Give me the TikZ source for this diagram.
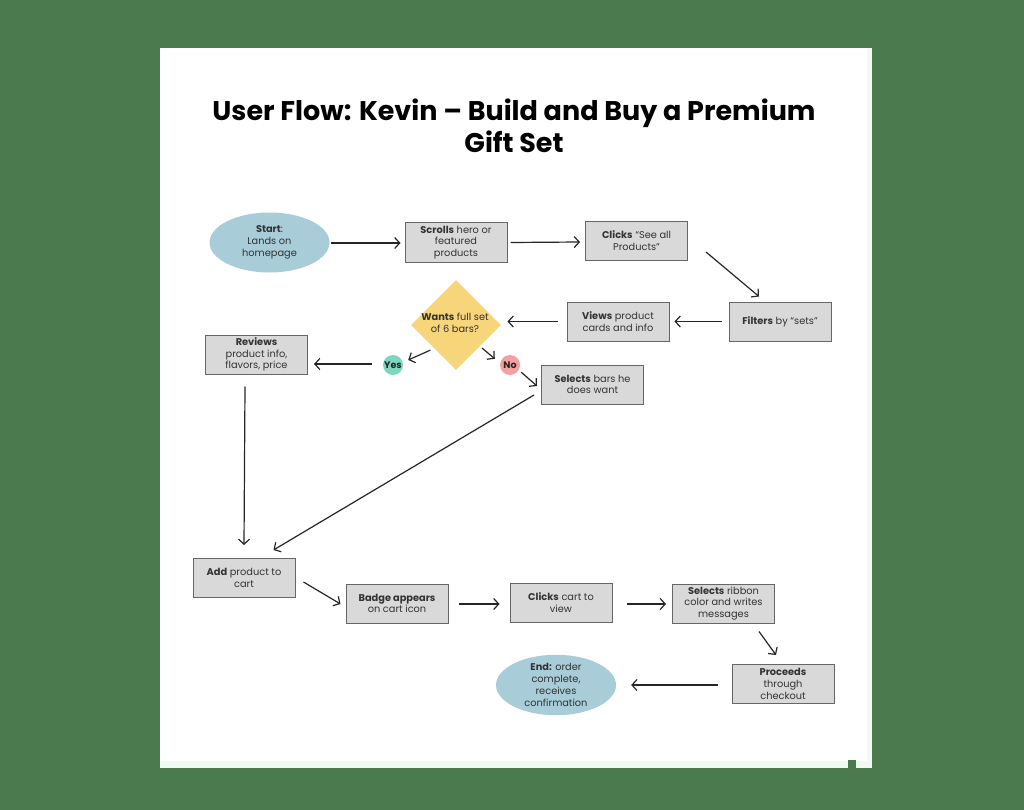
\documentclass[tikz,border=0pt]{standalone}
\usepackage{fontspec}
\setmainfont{Poppins}
\usetikzlibrary{arrows.meta,shapes.geometric,calc}
\definecolor{bggreen}{HTML}{4A7A4D}
\definecolor{edgegreen}{HTML}{F1FAF1}
\definecolor{boxfill}{HTML}{D9D9D9}
\definecolor{boxdraw}{HTML}{666666}
\definecolor{txt}{HTML}{333333}
\definecolor{ellblue}{HTML}{A8CCD8}
\definecolor{decyellow}{HTML}{F7D57A}
\definecolor{yesgreen}{HTML}{7ED6BF}
\definecolor{nored}{HTML}{F2A0A0}
\begin{document}
\begin{tikzpicture}[x=1pt,y=-1pt,
  stepbox/.style={draw=boxdraw, line width=1pt, fill=boxfill, minimum width=102pt, minimum height=39pt, inner sep=0pt, align=center, font=\fontsize{9.8}{11.8}\selectfont, text=txt},
  term/.style={ellipse, fill=ellblue, minimum width=120pt, minimum height=60pt, inner sep=0pt, align=center, font=\fontsize{9.8}{11.8}\selectfont, text=txt},
  dot/.style={circle, minimum size=20pt, inner sep=0pt, font=\bfseries\fontsize{9.5}{11}\selectfont, text=black!85},
  arr/.style={draw=black!85, line width=1.2pt, -{Straight Barb[length=5pt,width=11pt,line width=1.2pt]}}
]
\useasboundingbox (0,0) rectangle (1024,810);
\fill[bggreen] (0,0) rectangle (1024,810);
\fill[white] (160,48) rectangle (872,768);
\fill[edgegreen] (867,48) rectangle (872,768);
\fill[edgegreen] (160,761) rectangle (872,768);
\fill[bggreen] (848,760) rectangle (856,768);

\node[font=\bfseries\fontsize{27}{32}\selectfont, align=center, text=black] (title) at (514,126) {User Flow: Kevin – Build and Buy a Premium\\Gift Set};

\node[term] (start) at (269.5,242.5) {\textbf{Start}:\\Lands on\\homepage};
\node[stepbox] (scrolls) at (456,242.5) {\textbf{Scrolls} hero or\\featured\\products};
\node[stepbox] (clicks) at (636.5,241) {\textbf{Clicks} “See all\\Products”};
\node[stepbox] (filters) at (780,321.5) {\textbf{Filters} by “sets”};
\node[stepbox] (views) at (618,321.5) {\textbf{Views} product\\cards and info};
\node[diamond, fill=decyellow, minimum width=90pt, minimum height=90pt, inner sep=0pt] (dec) at (456,325) {};
\node[align=center, font=\fontsize{9.8}{11.8}\selectfont, text=txt] (dectext) at (455,323) {\textbf{Wants} full set\\of 6 bars?};
\node[dot, fill=yesgreen] (yes) at (393,365) {Yes};
\node[dot, fill=nored] (no) at (510,365) {No};
\node[stepbox] (reviews) at (256.5,354.5) {\textbf{Reviews}\\product info,\\flavors, price};
\node[stepbox] (selects) at (592.5,384.5) {\textbf{Selects} bars he\\does want};
\node[stepbox] (add) at (244,578) {\textbf{Add} product to\\cart};
\node[stepbox] (badge) at (397,603.5) {\textbf{Badge appears}\\on cart icon};
\node[stepbox] (cart) at (561,602.5) {\textbf{Clicks} cart to\\view};
\node[stepbox] (ribbon) at (723.5,603.5) {\textbf{Selects} ribbon\\color and writes\\messages};
\node[stepbox] (proceeds) at (783,684) {\textbf{Proceeds}\\through\\checkout};
\node[term] (end) at (556,685) {\textbf{End:} order\\complete,\\receives\\confirmation};

\draw[arr] ($(start.east)+(1,0.5)$) -- ($(scrolls.west)+(-4,0.5)$);
\draw[arr] ($(scrolls.east)+(3,0)$) -- ($(clicks.west)+(-5,1)$);
\draw[arr] ($(clicks.south east)+(18,-9)$) -- ($(filters.north)+(-21,-5)$);
\draw[arr] ($(filters.west)+(-7,0)$) -- ($(views.east)+(5,0)$);
\draw[arr] ($(views.west)+(-9,0)$) -- ($(views.west)+(-59,0)$);
\draw[arr] ($(dec.south west)+(-3,2.5)$) -- ($(yes.east)+(5,-5)$);
\draw[arr] ($(dec.south east)+(3.5,0.5)$) -- ($(no.north west)+(-8,1)$);
\draw[arr] ($(yes.west)+(-11,-1)$) -- ($(reviews.east |- yes.west)+(6,-1)$);
\draw[arr] ($(no.south east)+(4,0)$) -- ($(selects.west)+(-4,1.5)$);
\draw[arr] ($(reviews.south)+(-11.5,12)$) -- ($(add.north)+(0,-13)$);
\draw[arr] ($(selects.west)+(-7,10.5)$) -- ($(add.north east)+(-22,-8)$);
\draw[arr] ($(add.east)+(8,4)$) -- ($(badge.west)+(-5,0.5)$);
\draw[arr] ($(badge.east)+(10,0.5)$) -- ($(cart.west)+(-10,1.5)$);
\draw[arr] ($(cart.east)+(14,1.5)$) -- ($(ribbon.west)+(-6,0.5)$);
\draw[arr] ($(ribbon.south)+(35.5,8)$) -- ($(proceeds.north)+(-7,-9)$);
\draw[arr] ($(proceeds.west)+(-14,1)$) -- ($(end.east)+(15,0)$);
\end{tikzpicture}
\end{document}
